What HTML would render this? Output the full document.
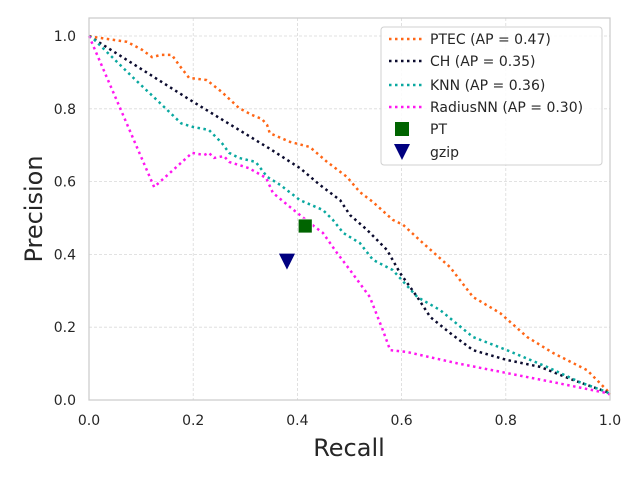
<!DOCTYPE html>
<html><head><meta charset="utf-8"><style>
body{margin:0;background:#fff;font-family:"Liberation Sans","DejaVu Sans",sans-serif;}
svg text{font-family:"DejaVu Sans","Liberation Sans",sans-serif;fill:#262626;}
</style></head><body>
<svg id="chart" width="640" height="480" xmlns="http://www.w3.org/2000/svg">
<rect width="640" height="480" fill="#fff"/>
<g id="grid"></g>
<g id="series"></g>
<rect x="89" y="18" width="521" height="382" fill="none" stroke="#cccccc" stroke-width="1.25"/>
<g id="ticks"></g>
<text x="349" y="456" font-size="24" text-anchor="middle">Recall</text>
<text x="0" y="0" font-size="24" text-anchor="middle" transform="translate(42,209) rotate(-90)">Precision</text>
<g id="legend"></g>
</svg>
<script>
const ticks=[0,0.2,0.4,0.6,0.8,1.0];
const tickLabels=["0.0","0.2","0.4","0.6","0.8","1.0"];
const ptecR=[0,.01,.073,.102,.121,.138,.159,.173,.192,.226,.255,.288,.313,.332,.342,.347,.386,.424,.457,.495,.52,.545,.583,.603,.641,.693,.737,.789,.841,.891,.956,.994,1.0];
const ptecP=[1,.997,.984,.962,.942,.948,.948,.920,.885,.879,.846,.802,.783,.772,.755,.733,.709,.695,.654,.613,.571,.544,.495,.481,.431,.365,.283,.239,.173,.129,.082,.027,.015];
const chR=[0,.2,.345,.405,.443,.482,.501,.534,.572,.597,.63,.655,.693,.737,.802,.866,.929,.994,1.0];
const chP=[1,.819,.692,.637,.591,.549,.508,.467,.412,.349,.283,.228,.184,.137,.11,.091,.055,.022,.015];
const knnR=[0,.01,.083,.134,.177,.2,.23,.255,.269,.288,.32,.342,.367,.405,.449,.468,.488,.52,.545,.583,.63,.674,.737,.802,.879,.942,.994,1.0];
const knnP=[1,.99,.888,.819,.76,.75,.742,.706,.679,.665,.654,.613,.591,.549,.522,.495,.459,.431,.385,.357,.283,.247,.173,.137,.091,.049,.022,.015];
const rnnR=[0,.125,.198,.221,.23,.24,.259,.269,.307,.34,.353,.386,.424,.449,.476,.501,.539,.564,.578,.61,.706,.802,.898,.994,1.0];
const rnnP=[1,.585,.679,.673,.679,.665,.67,.654,.637,.61,.569,.530,.486,.459,.404,.357,.283,.192,.137,.132,.101,.074,.047,.019,.015];
const ptPoint=[0.415,0.478];
const gzipPoint=[0.38,0.38];
const X=v=>89+v*521, Y=v=>400-v*364;
const NS="http://www.w3.org/2000/svg";
function mk(tag,attrs,parent){const e=document.createElementNS(NS,tag);for(const k in attrs)e.setAttribute(k,attrs[k]);parent.appendChild(e);return e;}
const grid=document.getElementById('grid'),tk=document.getElementById('ticks'),ser=document.getElementById('series'),lg=document.getElementById('legend');
ticks.forEach((t,i)=>{
 let g1=mk('line',{x1:X(t),x2:X(t),y1:18,y2:400,stroke:'#d9d9d9','stroke-width':0.8,'stroke-dasharray':'3,2'},grid);
 
 
 let g2=mk('line',{x1:89,x2:610,y1:Y(t),y2:Y(t),stroke:'#d9d9d9','stroke-width':0.8,'stroke-dasharray':'3,2'},grid);
 
 
 let a=mk('text',{x:X(t),y:425,'font-size':14,'text-anchor':'middle'},tk);a.textContent=tickLabels[i];
 
 
 let b=mk('text',{x:76,y:Y(t)+5,'font-size':14,'text-anchor':'end'},tk);b.textContent=tickLabels[i];
 
 
});
const series=[[ptecR,ptecP,'#ff6616','ptec-line'],[chR,chP,'#0b0b2e','ch-line'],[knnR,knnP,'#0aa8a0','knn-line'],[rnnR,rnnP,'#ff17f0','radiusnn-line']];
series.forEach(s=>{
 const d=s[0].map((r,i)=>(i?'L':'M')+X(r)+','+Y(s[1][i])).join(' ');
 let p=mk('path',{d:d,fill:'none',stroke:s[2],'stroke-width':2.5,'stroke-dasharray':'2.5,3.5'},ser);
 
 
});
let pt=mk('rect',{x:X(ptPoint[0])-7,y:Y(ptPoint[1])-7,width:14,height:14,fill:'#006400',stroke:'#fff','stroke-width':0.8},ser);


const gx=X(gzipPoint[0]),gy=Y(gzipPoint[1]);
let gz=mk('path',{d:`M${gx-8},${gy-8} L${gx+8},${gy-8} L${gx},${gy+8} Z`,fill:'#000080'},ser);


mk('rect',{x:381,y:27,width:221,height:138,rx:3,fill:'#fff','fill-opacity':0.85,stroke:'#d0d0d0'},lg);
const labels=['PTEC (AP = 0.47)','CH (AP = 0.35)','KNN (AP = 0.36)','RadiusNN (AP = 0.30)','PT','gzip'];
const ly=[39,61,85,107,129,152];
labels.forEach((l,i)=>{
 const y=ly[i];
 if(i<4){let ln=mk('line',{x1:389,x2:424,y1:y,y2:y,stroke:series[i][2],'stroke-width':2.5,'stroke-dasharray':'2.5,3.5'},lg);
  
  }
 else if(i==4){let r=mk('rect',{x:395,y:y-7,width:14,height:14,fill:'#006400'},lg);
  
  }
 else{let r=mk('path',{d:`M${394},${y-8} L${410},${y-8} L${402},${y+8} Z`,fill:'#000080'},lg);
  
  }
 let t=mk('text',{x:430,y:y+5,'font-size':14},lg);t.textContent=l;
 
 
});
</script>
</body></html>
